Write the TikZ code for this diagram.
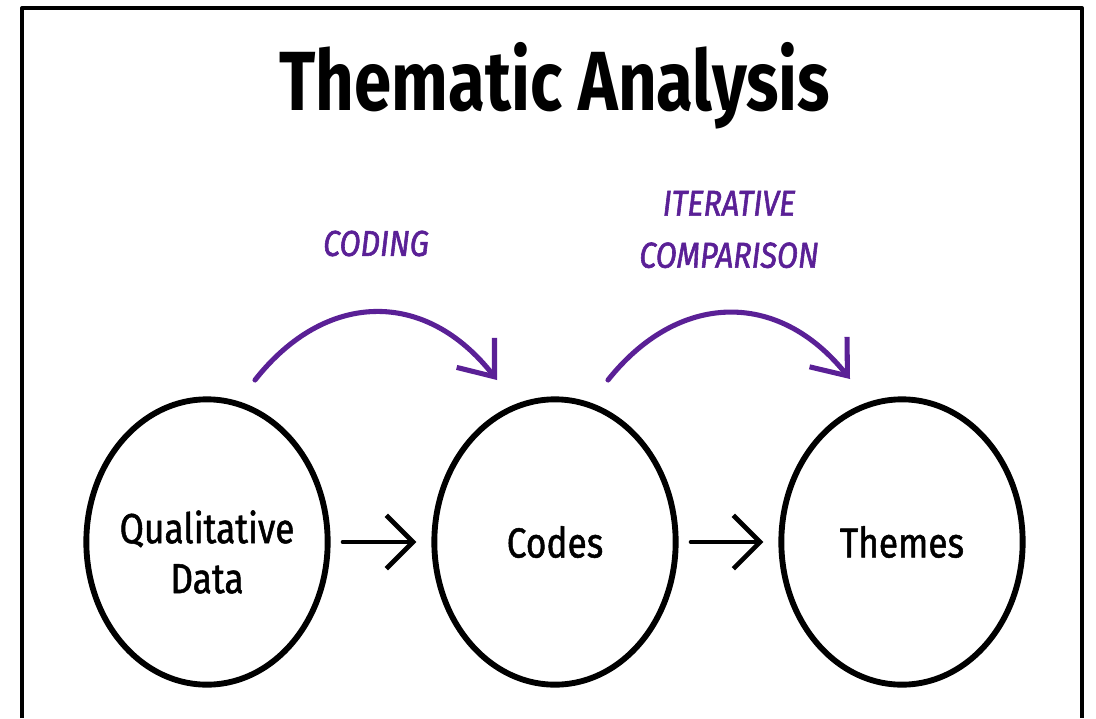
\documentclass[tikz,border=0pt]{standalone}
\usepackage{fontspec}
\usetikzlibrary{shapes.geometric,arrows.meta}
\newfontfamily\titlefont[FakeStretch=0.8]{Fira Sans}
\newfontfamily\stagefont[FakeStretch=0.84,FakeBold=1.2]{Fira Sans}
\newfontfamily\handfont[FakeStretch=0.85,FakeBold=1.6]{Fira Sans}
\definecolor{procpurple}{RGB}{90,32,150}
\tikzset{
  stage/.style={ellipse, draw=black, line width=4.4pt, minimum width=181pt,
    minimum height=214pt, inner sep=0pt, outer sep=0pt},
  stagetext/.style={align=center, inner sep=0pt,
    font=\stagefont\fontsize{31.5}{37.5}\selectfont},
  flowarrow/.style={line width=3.5pt, -{Straight Barb[length=20pt,width=40pt]},
    shorten <=11.5pt, shorten >=13.5pt},
  procarrow/.style={draw=procpurple, line width=3.8pt,
    -{Straight Barb[length=23pt,width=36pt]}},
  proclabel/.style={text=procpurple, align=center,
    font=\handfont\itshape\fontsize{27}{39}\selectfont}
}
\begin{document}
\begin{tikzpicture}[x=0.75pt,y=-0.75pt, line join=round, line cap=round]
  \useasboundingbox (0,0) rectangle (1096,718);
  % frame (open at the bottom)
  \draw[line width=3pt, line cap=butt] (22,718) -- (22,8) -- (1082,8) -- (1082,718);
  % title
  \node[anchor=base, font=\titlefont\bfseries\fontsize{63}{70}\selectfont] (title) at (555,110) {Thematic Analysis};
  % stages
  \node[stage] (qual) at (207,542) {};
  \node[stage] (codes) at (555,542) {};
  \node[stage] (themes) at (902,542) {};
  \node[stagetext, yshift=-7.5pt] (qual-txt) at (qual) {Qualitative\\Data};
  \node[stagetext] (codes-txt) at (codes) {Codes};
  \node[stagetext] (themes-txt) at (themes) {Themes};
  \draw[flowarrow] (qual) -- (codes);
  \draw[flowarrow] (codes) -- (themes);
  % process arcs
  \coordinate (cod-s) at (255,380);
  \coordinate (cod-e) at (497,380);
  \coordinate (cmp-s) at (608,380);
  \coordinate (cmp-e) at (850,379);
  \draw[procarrow] (cod-s) .. controls (325,291) and (425,288) .. (cod-e);
  \draw[procarrow] (cmp-s) .. controls (678,292) and (778,289) .. (cmp-e);
  \node[proclabel] (coding) at (376,243.5) {CODING};
  \node[proclabel] (comparison) at (729,229.5) {ITERATIVE\\COMPARISON};
\end{tikzpicture}
\end{document}
